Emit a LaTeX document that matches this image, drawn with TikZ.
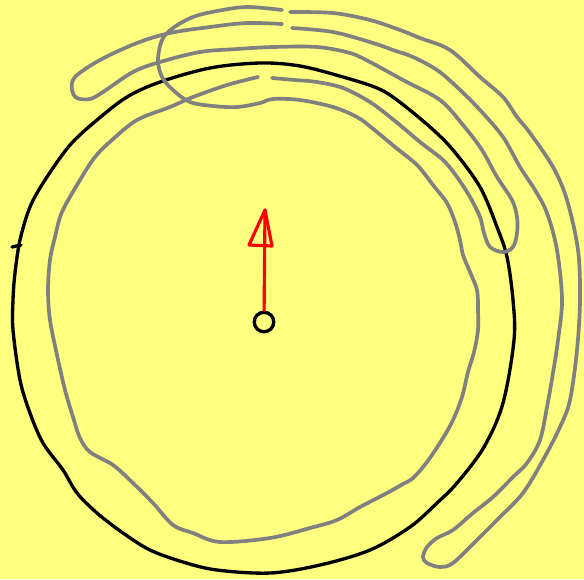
\documentclass[tikz,border=0pt]{standalone}
\usepackage{tikz}
\usetikzlibrary{arrows.meta}

\definecolor{paper}{HTML}{FFFF80}
\definecolor{strip}{HTML}{808080}

\begin{document}
\begin{tikzpicture}[x=0.02cm, y=-0.02cm,
    rim/.style={draw=black, line width=1.9pt, line cap=round, line join=round},
    band/.style={draw=strip, line width=2.1pt, line cap=round, line join=round},
    hub/.style={circle, draw=black, line width=1.9pt, inner sep=0pt, minimum size=0.39cm},
    pointer/.style={draw=red, line width=1.8pt, line cap=round, line join=round}]
    % background
    \fill[paper] (0,0) rectangle (584,579);
    \useasboundingbox (0,0) rectangle (584,579);

    % outer black circle
    \draw[rim] plot[smooth cycle, tension=0.55] coordinates {
        (260,63) (300,66) (343,77) (377,88) (397,100) (430,127) (453,150)
        (480,187) (497,227) (507,257) (513,300) (514,340) (503,403) (484,447)
        (457,483) (437,503) (410,527) (370,550) (320,565) (270,573) (217,570)
        (183,562) (150,550) (123,533) (97,513) (77,493) (63,470) (43,443)
        (30,413) (20,380) (13,330) (13,300) (15,273) (20,240) (30,207)
        (45,180) (70,145) (97,120) (127,97) (160,82) (210,68)};
    \draw[rim] (12,247) -- (21,245);

    % gray strip, three strokes
    \draw[band] plot[smooth, tension=0.55] coordinates {
        (272,78) (295,80) (317,82) (343,88) (370,102) (395,121) (420,142)
        (443,160) (457,177) (470,197) (480,217) (484,233) (490,247) (503,252)
        (513,247) (517,233) (517,217) (512,200) (497,177) (482,150) (463,125)
        (440,100) (403,80) (370,62) (350,53) (317,47) (273,47) (237,49)
        (200,52) (160,62) (133,72) (103,92) (90,99) (77,98) (72,90) (75,77)
        (100,60) (137,43) (170,33) (210,27) (247,23) (282,24)};
    \draw[band] plot[smooth, tension=0.55] coordinates {
        (292,28) (333,32) (373,43) (393,50) (413,57) (437,70) (457,87)
        (480,110) (503,137) (520,167) (535,190) (547,213) (557,250) (562,300)
        (558,340) (553,373) (547,407) (540,440) (527,463) (513,477) (493,497)
        (473,513) (453,530) (437,538) (427,547) (423,557) (427,563) (440,567)
        (453,563) (477,540) (500,517) (523,493) (543,460) (560,427) (570,400)
        (577,350) (580,300) (578,250) (567,200) (553,167) (530,133) (517,117)
        (503,97) (480,77) (450,50) (420,38) (400,30) (370,20) (333,13) (290,12)};
    \draw[band] plot[smooth, tension=0.55] coordinates {
        (282,10) (247,7) (217,11) (193,17) (173,28) (162,40) (158,60) (162,77)
        (173,90) (190,102) (213,106) (237,107) (260,103) (273,99) (300,100)
        (333,107) (357,117) (372,128) (395,147) (417,165) (433,185) (447,203)
        (455,222) (460,240) (463,255) (470,272) (477,290) (478,310) (478,330)
        (474,352) (468,372) (462,397) (453,420) (443,438) (427,462) (413,478)
        (403,484) (387,493) (360,507) (337,520) (310,528) (270,538) (220,542)
        (193,533) (173,525) (153,503) (133,483) (113,465) (90,452) (80,438)
        (73,417) (65,390) (57,355) (50,320) (48,290) (50,260) (55,237) (62,212)
        (80,180) (95,157) (112,140) (137,120) (170,107) (193,97) (227,85) (258,77)};

    % centre and red arrow
    \node[hub] (pivot) at (264,322) {};
    \coordinate (tip) at (265,210);
    \draw[pointer] (pivot) -- (tip);
    \draw[pointer] (tip) -- ([shift={(-16,35)}]tip) -- ([shift={(7,36)}]tip) -- cycle;
\end{tikzpicture}
\end{document}
